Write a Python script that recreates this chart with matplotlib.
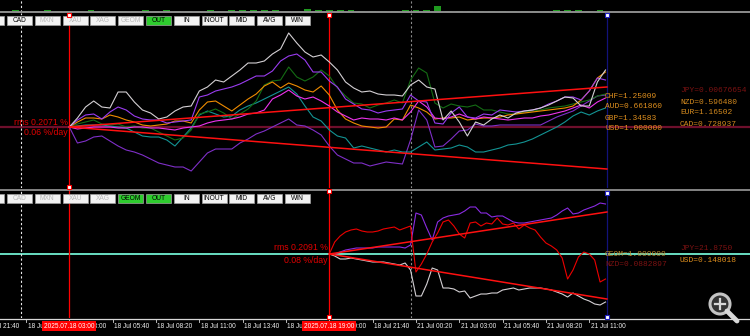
import numpy as np
import matplotlib
matplotlib.use("Agg")
import matplotlib.pyplot as plt
from matplotlib.patches import Rectangle, Circle

# ---------------- data ----------------
# time axis in 5-minute bars, bar 0 = 18 Jul 00:20
tick_bars = [-32, 0, 32, 64, 96, 128, 160, 192, 224, 256, 288, 320, 352, 384, 416]
tick_labels = ["17 Jul 21:40", "18 Jul 00:20", "18 Jul 03:00", "18 Jul 05:40", "18 Jul 08:20",
               "18 Jul 11:00", "18 Jul 13:40", "18 Jul 16:20", "18 Jul 19:00", "18 Jul 21:40",
               "21 Jul 00:20", "21 Jul 03:00", "21 Jul 05:40", "21 Jul 08:20", "21 Jul 11:00"]
day_sep_bars = [-4, 284]
marker_bars = [32, 224]
marker_labels = ["2025.07.18 03:00", "2025.07.18 19:00"]
end_bar = 429

top_start, top_step = 32, 6
top_white = [0.00, 0.09, 0.20, 0.26, 0.20, 0.19, 0.35, 0.35, 0.25, 0.17,
             0.14, 0.08, 0.10, 0.16, 0.20, 0.21, 0.36, 0.40, 0.47, 0.45,
             0.51, 0.57, 0.64, 0.64, 0.66, 0.73, 0.78, 0.94, 0.84, 0.75,
             0.70, 0.72, 0.65, 0.57, 0.45, 0.39, 0.35, 0.36, 0.33, 0.32,
             0.32, 0.31, 0.42, 0.47, 0.40, 0.38, 0.07, 0.16, 0.05, -0.09,
             0.05, 0.02, 0.08, 0.12, 0.09, 0.14, 0.16, 0.17, 0.19, 0.22,
             0.26, 0.30, 0.29, 0.21, 0.21, 0.45, 0.57]
top_violet = [0.00, 0.07, 0.12, 0.13, 0.08, 0.15, 0.20, 0.17, 0.11, 0.08,
              0.07, 0.07, 0.04, 0.05, 0.06, 0.07, 0.30, 0.32, 0.36, 0.38,
              0.40, 0.43, 0.47, 0.51, 0.51, 0.56, 0.66, 0.71, 0.73, 0.67,
              0.55, 0.55, 0.46, 0.40, 0.28, 0.23, 0.18, 0.17, 0.14, 0.16,
              0.17, 0.18, 0.32, 0.26, 0.25, 0.04, 0.03, 0.14, 0.20, 0.10,
              0.09, 0.13, 0.12, 0.17, 0.16, 0.15, 0.16, 0.17, 0.19, 0.23,
              0.26, 0.30, 0.30, 0.27, 0.36, 0.49, 0.47]
top_green = [0.00, 0.03, 0.05, 0.07, 0.03, 0.02, 0.03, 0.00, 0.01, -0.01,
             -0.01, -0.05, -0.09, -0.13, -0.11, -0.03, 0.13, 0.15, 0.18, 0.14,
             0.08, 0.13, 0.18, 0.26, 0.42, 0.46, 0.47, 0.60, 0.50, 0.46,
             0.50, 0.57, 0.51, 0.39, 0.31, 0.24, 0.23, 0.19, 0.22, 0.24,
             0.27, 0.24, 0.47, 0.59, 0.54, 0.24, 0.19, 0.23, 0.21, 0.20,
             0.22, 0.17, 0.17, 0.15, 0.13, 0.13, 0.15, 0.16, 0.17, 0.19,
             0.20, 0.21, 0.23, 0.25, 0.27, 0.31, 0.33]
top_orange = [0.00, 0.05, 0.09, 0.09, 0.08, 0.12, 0.10, 0.07, 0.05, 0.02,
              0.01, 0.02, 0.03, 0.06, 0.06, 0.04, 0.17, 0.25, 0.26, 0.21,
              0.16, 0.22, 0.28, 0.33, 0.41, 0.45, 0.39, 0.44, 0.41, 0.37,
              0.35, 0.41, 0.32, 0.17, 0.08, 0.04, 0.01, 0.00, -0.01, 0.00,
              0.08, 0.07, 0.22, 0.19, 0.15, 0.08, 0.09, 0.09, 0.10, 0.07,
              0.08, 0.09, 0.09, 0.10, 0.12, 0.13, 0.14, 0.15, 0.16, 0.17,
              0.18, 0.19, 0.21, 0.27, 0.36, 0.49, 0.55]
top_teal = [0.00, 0.01, 0.02, 0.02, 0.02, 0.01, 0.00, -0.01, -0.05, -0.09,
            -0.10, -0.10, -0.13, -0.19, -0.10, -0.01, 0.12, 0.16, 0.13, 0.10,
            0.11, 0.17, 0.21, 0.24, 0.28, 0.32, 0.36, 0.40, 0.33, 0.21,
            0.10, 0.06, -0.03, -0.09, -0.11, -0.21, -0.19, -0.21, -0.23, -0.25,
            -0.23, -0.25, -0.25, -0.20, -0.15, -0.23, -0.22, -0.21, -0.18, -0.20,
            -0.25, -0.25, -0.23, -0.21, -0.18, -0.17, -0.15, -0.12, -0.08, -0.04,
            0.00, 0.05, 0.11, 0.15, 0.12, 0.16, 0.19]
top_magenta = [0.00, -0.02, -0.01, 0.00, 0.00, 0.00, -0.01, -0.01, 0.00, 0.00,
               -0.01, -0.01, -0.02, -0.03, -0.01, 0.00, 0.01, 0.04, 0.06, 0.07,
               0.08, 0.10, 0.13, 0.14, 0.17, 0.28, 0.32, 0.37, 0.31, 0.28,
               0.30, 0.26, 0.21, 0.15, 0.11, 0.07, 0.09, 0.08, 0.08, 0.07,
               0.09, 0.07, 0.15, 0.26, 0.20, 0.09, 0.08, 0.10, 0.13, 0.10,
               0.08, 0.10, 0.09, 0.08, 0.07, 0.08, 0.09, 0.09, 0.11, 0.12,
               0.14, 0.16, 0.19, 0.22, 0.19, 0.25, 0.29]
top_purple = [0.00, -0.16, -0.14, -0.10, -0.09, -0.14, -0.19, -0.23, -0.25, -0.28,
              -0.32, -0.36, -0.38, -0.40, -0.40, -0.44, -0.35, -0.26, -0.22, -0.22,
              -0.22, -0.16, -0.12, -0.07, -0.04, 0.00, 0.04, 0.08, 0.02, 0.01,
              -0.03, -0.08, -0.19, -0.28, -0.32, -0.36, -0.36, -0.39, -0.37, -0.35,
              -0.36, -0.37, -0.13, 0.17, 0.07, -0.20, -0.19, -0.12, -0.04, -0.03,
              0.03, 0.01, 0.01, 0.02, 0.02, 0.02, 0.02, 0.02, 0.02, 0.06,
              0.10, 0.13, 0.16, 0.21, 0.26, 0.31, 0.32]
top_fit_upper = [0.0, 0.40]
top_fit_lower = [0.0, -0.42]

bot_start, bot_step = 224, 4
bot_red = [0.00, 0.12, 0.18, 0.22, 0.24, 0.25, 0.23, 0.22, 0.22, 0.23,
           0.25, 0.26, 0.27, 0.24, 0.26, 0.28, -0.18, -0.10, 0.00, 0.12,
           0.21, 0.32, 0.34, 0.28, 0.20, 0.16, 0.31, 0.32, 0.28, 0.31,
           0.30, 0.36, 0.30, 0.29, 0.31, 0.25, 0.29, 0.26, 0.24, 0.17,
           0.11, 0.08, 0.04, -0.04, -0.25, -0.16, -0.03, 0.02, 0.00, -0.06,
           -0.28, -0.25]
bot_purple = [0.00, 0.00, 0.02, 0.04, 0.05, 0.06, 0.06, 0.06, 0.06, 0.07,
              0.07, 0.07, 0.07, 0.07, 0.06, 0.09, 0.41, 0.39, 0.26, 0.14,
              0.32, 0.36, 0.38, 0.39, 0.40, 0.43, 0.47, 0.47, 0.41, 0.41,
              0.37, 0.38, 0.38, 0.35, 0.32, 0.31, 0.31, 0.32, 0.33, 0.34,
              0.35, 0.36, 0.39, 0.43, 0.46, 0.40, 0.41, 0.44, 0.46, 0.48,
              0.51, 0.50]
bot_white = [0.00, -0.02, -0.05, -0.05, -0.04, -0.05, -0.06, -0.07, -0.08, -0.08,
             -0.08, -0.09, -0.10, -0.11, -0.09, -0.16, -0.42, -0.42, -0.30, -0.14,
             -0.16, -0.34, -0.34, -0.35, -0.38, -0.37, -0.44, -0.42, -0.40, -0.40,
             -0.39, -0.39, -0.36, -0.35, -0.34, -0.36, -0.35, -0.34, -0.34, -0.34,
             -0.35, -0.36, -0.38, -0.40, -0.43, -0.39, -0.42, -0.45, -0.47, -0.50,
             -0.51, -0.48]
bot_fit_upper = [0.0, 0.42]
bot_fit_lower = [0.0, -0.45]

strip_start, strip_step = -16, 8
strip_vals = [1, 2, 1, 1, 2, 1, 1, 1, 2, 1, 1, 1, 1, 2, 1, 2, 1, 1, 1, 2,
              1, 2, 2, 2, 2, 2, 1, 1, 3, 2, 2, 2, 2, 1, 1, 1, 1, 2, 2, 2,
              6, 1, 1, 1, 1, 1, 1, 1, 1, 1, 1, 2, 2, 2, 1, 2]

top_labels_left = ["CHF=1.25009", "AUD=0.661860", "GBP=1.34583", "USD=1.000000"]
top_labels_right = ["JPY=0.00676654", "NZD=0.596480", "EUR=1.16502", "CAD=0.728937"]
bot_labels_left = ["GEOM=1.000000", "NZD=0.0882897"]
bot_labels_right = ["JPY=21.8750", "USD=0.148018"]
top_rms = ["rms 0.2071 %", "0.06 %/day"]
bot_rms = ["rms 0.2091 %", "0.08 %/day"]

button_names = ["", "CAD", "MXN", "XAU", "XAG", "GEOM", "OUT", "IN", "INOUT", "MID", "AVG", "WIN"]
top_states = ["n", "n", "d", "d", "d", "d", "g", "n", "n", "n", "n", "n"]
bot_states = ["n", "d", "d", "d", "d", "g", "g", "n", "n", "n", "n", "n"]

# ---------------- layout ----------------
W, H = 750, 336
X0, PXB = 26.0, 1.354   # pixel of bar 0, pixels per bar


def b2p(b):
    return X0 + b * PXB


fig = plt.figure(figsize=(W / 100, H / 100), dpi=100, facecolor="black")


def panel(top, bottom):
    ax = fig.add_axes([0, 1 - bottom / H, 1, (bottom - top) / H])
    ax.set_facecolor("black")
    ax.set_axis_off()
    ax.set_xlim(-X0 / PXB, (W - X0) / PXB)
    return ax


ax0 = panel(0, 12)
ax0.set_ylim(0, 12)
ax1 = panel(13, 188)
ax1.set_ylim(-0.61, 1.14)
ax2 = panel(190, 318)
ax2.set_ylim(-0.64, 0.64)

# strip histogram
sx = strip_start + strip_step * np.arange(len(strip_vals))
ax0.bar(sx, strip_vals, width=5, color="#1f9a1f", align="center")

# vertical separators
for ax in (ax0, ax1, ax2):
    ax.axvline(day_sep_bars[0], color="#e8e8e8", lw=0.8, ls=(0, (2, 2)))
    ax.axvline(day_sep_bars[1], color="#8a8a8a", lw=0.8, ls=(0, (2, 2)))
for ax in (ax1, ax2):
    for mb in marker_bars:
        ax.axvline(mb, color="#ff0000", lw=0.9)
    ax.axvline(end_bar, color="#12127a", lw=0.9)

# top panel
ax1.axhline(0, color="#6e0f2c", lw=1.6, zorder=1)
series_top = [(top_purple, "#7f2fc8"), (top_teal, "#139494"), (top_green, "#146c14"),
              (top_orange, "#f08c00"), (top_magenta, "#ee33ee"), (top_violet, "#9a3cf0"),
              (top_white, "#d4d0d4")]
for vals, c in series_top:
    ax1.plot(top_start + top_step * np.arange(len(vals)), vals, color=c, lw=0.8, zorder=2)
fb = [top_start, end_bar]
ax1.plot(fb, top_fit_upper, color="#ff1010", lw=1.1, zorder=3)
ax1.plot(fb, top_fit_lower, color="#ff1010", lw=1.1, zorder=3)
ax1.text(top_start - 1, 0.045, top_rms[0], color="#e00000", fontsize=6.3,
         family="Liberation Sans", ha="right", va="center")
ax1.text(top_start - 1, -0.055, top_rms[1], color="#e00000", fontsize=6.3,
         family="Liberation Sans", ha="right", va="center")

# bottom panel
ax2.axhline(0, color="#72f0d2", lw=1.3, zorder=1)
for vals, c in [(bot_white, "#d4d0d4"), (bot_purple, "#8a2be2"), (bot_red, "#ee0000")]:
    ax2.plot(bot_start + bot_step * np.arange(len(vals)), vals, color=c, lw=0.8, zorder=2)
fb2 = [bot_start, end_bar]
ax2.plot(fb2, bot_fit_upper, color="#ff1010", lw=1.1, zorder=3)
ax2.plot(fb2, bot_fit_lower, color="#ff1010", lw=1.1, zorder=3)
ax2.text(bot_start - 1, 0.065, bot_rms[0], color="#e00000", fontsize=6.3,
         family="Liberation Sans", ha="right", va="center")
ax2.text(bot_start - 1, -0.065, bot_rms[1], color="#e00000", fontsize=6.3,
         family="Liberation Sans", ha="right", va="center")

# ---------------- overlay (pixel coordinates) ----------------
ov = fig.add_axes([0, 0, 1, 1])
ov.set_xlim(0, W)
ov.set_ylim(H, 0)
ov.set_axis_off()
ov.patch.set_alpha(0)

ov.plot([0, W], [12, 12], color="#8c8c8c", lw=1.4)
ov.plot([0, W], [189.5, 189.5], color="#9a9a9a", lw=1.2)
ov.plot([0, W], [319, 319], color="#d8d8d8", lw=0.9)


def buttons(y, states):
    for i, (name, st) in enumerate(zip(button_names, states)):
        x = 7 + 27.8 * (i - 1)
        fc = "#2ecc2e" if st == "g" else "#f2f2f2"
        ov.add_patch(Rectangle((x, y), 25, 9, facecolor=fc, edgecolor="#a0a0a0", lw=0.5))
        tc = "#b8b8b8" if st == "d" else "#000000"
        ov.text(x + 12.5, y + 4.7, name, color=tc, fontsize=4.8, family="Liberation Sans",
                ha="center", va="center")


buttons(15.5, top_states)
buttons(193.5, bot_states)

# time axis
for b, lab in zip(tick_bars, tick_labels):
    p = b2p(b)
    ov.plot([p, p], [319, 322], color="#d8d8d8", lw=0.6)
    ov.text(p + 1.5, 326, lab, color="#f0f0f0", fontsize=4.7, family="Liberation Sans",
            ha="left", va="center", clip_on=False)
for b, lab in zip(marker_bars, marker_labels):
    ov.text(b2p(b), 326, lab, color="#ffffff", fontsize=4.7, family="Liberation Sans",
            ha="center", va="center", zorder=5,
            bbox=dict(boxstyle="square,pad=0.25", fc="#ff0000", ec="none"))

# small anchor squares
for b, ys, ec in [(marker_bars[0], [15, 187], "#ff0000"), (marker_bars[1], [15, 191, 317], "#ff0000"),
                  (end_bar, [15, 193, 317], "#2020c0")]:
    for yy in ys:
        ov.plot(b2p(b), yy, marker="s", ms=3, mfc="#ffffff", mec=ec, mew=0.8, zorder=6)

# right-side labels
mono = "Liberation Mono"
for i, lab in enumerate(top_labels_left):
    ov.text(605, 96 + 11 * i, lab, color="#e0901e", fontsize=5.7, family=mono, va="center")
for i, lab in enumerate(top_labels_right):
    c = "#7c1212" if i == 0 else "#d48a1e"
    ov.text(680, 91 + 11 * i, lab, color=c, fontsize=5.7, family=mono, va="center")
ov.text(605, 255, bot_labels_left[0], color="#c08a2c", fontsize=5.7, family=mono, va="center")
ov.text(605, 265, bot_labels_left[1], color="#7c1212", fontsize=5.7, family=mono, va="center")
ov.text(680, 249, bot_labels_right[0], color="#7c1212", fontsize=5.7, family=mono, va="center")
ov.text(680, 261, bot_labels_right[1], color="#e0901e", fontsize=5.7, family=mono, va="center")

# magnifier icon
ov.add_patch(Circle((720, 304), 10, facecolor="#3a3a3a", edgecolor="#d8d8d8", lw=2.2, alpha=0.9))
ov.plot([727, 737], [311, 321], color="#d8d8d8", lw=3.5, solid_capstyle="round")
ov.plot([715, 725], [304, 304], color="#d8d8d8", lw=1.6)
ov.plot([720, 720], [299, 309], color="#d8d8d8", lw=1.6)

fig.savefig("out.png", dpi=100, facecolor="black")
